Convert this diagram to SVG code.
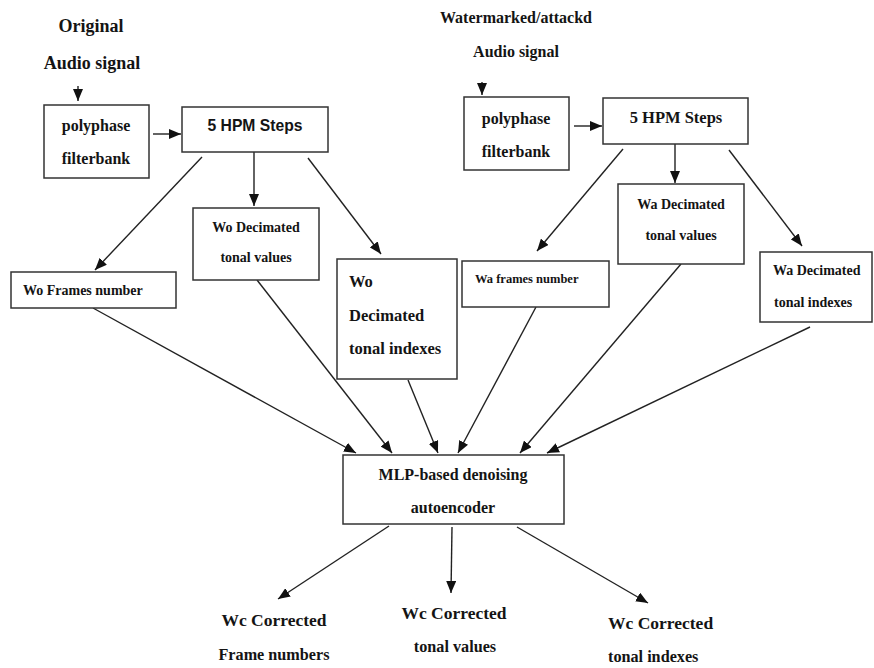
<svg xmlns="http://www.w3.org/2000/svg" width="874" height="668" viewBox="0 0 874 668">
<defs>
<marker id="ah" markerUnits="userSpaceOnUse" markerWidth="12" markerHeight="10" refX="12" refY="5" orient="auto">
<path d="M0,0 L12,5 L0,10 z" fill="#111"/>
</marker>
<style>
.box{fill:#fff;stroke:#333;stroke-width:1.5}
.t{font-family:"Liberation Serif","Times New Roman",serif;font-weight:bold;fill:#141414}
.c{text-anchor:middle}
.s{font-family:"Liberation Sans",Arial,sans-serif;font-weight:bold;fill:#141414}
.ln{stroke:#222;stroke-width:1.4;fill:none;marker-end:url(#ah)}
</style>
</defs>
<rect width="874" height="668" fill="#fff"/>

<g id="connectors">
<line class="ln" x1="78" y1="86" x2="78" y2="101"/>
<line class="ln" x1="153" y1="134" x2="181" y2="134"/>
<line class="ln" x1="202" y1="157" x2="95" y2="270"/>
<line class="ln" x1="254" y1="152" x2="254" y2="206"/>
<line class="ln" x1="308" y1="158" x2="381" y2="254"/>
<line class="ln" x1="482" y1="82" x2="482" y2="95"/>
<line class="ln" x1="574" y1="126" x2="602" y2="126"/>
<line class="ln" x1="623" y1="149" x2="537" y2="251"/>
<line class="ln" x1="675" y1="144" x2="675" y2="183"/>
<line class="ln" x1="729" y1="150" x2="802" y2="246"/>
<line class="ln" x1="93" y1="308" x2="356" y2="453"/>
<line class="ln" x1="257" y1="280" x2="392" y2="453"/>
<line class="ln" x1="408" y1="380" x2="438" y2="453"/>
<line class="ln" x1="536" y1="307" x2="458" y2="453"/>
<line class="ln" x1="681" y1="264" x2="520" y2="453"/>
<line class="ln" x1="810" y1="327" x2="547" y2="453"/>
<line class="ln" x1="389" y1="526" x2="278" y2="599"/>
<line class="ln" x1="452" y1="527" x2="451" y2="593"/>
<line class="ln" x1="517" y1="527" x2="648" y2="603"/>
</g>

<g id="original-label">
<text class="t c" x="91" y="32" font-size="18">Original</text>
<text class="t c" x="92" y="69" font-size="18">Audio signal</text>
</g>

<g id="wo-polyphase">
<rect class="box" x="44" y="105" width="105" height="73"/>
<text class="t c" x="96" y="131" font-size="16">polyphase</text>
<text class="t c" x="96" y="164" font-size="16">filterbank</text>
</g>

<g id="wo-hpm">
<rect class="box" x="182" y="107" width="146" height="45"/>
<text class="s c" x="255" y="131" font-size="17" textLength="95" lengthAdjust="spacingAndGlyphs">5 HPM Steps</text>
</g>

<g id="wo-frames">
<rect class="box" x="11" y="272" width="165" height="36"/>
<text class="t" x="23" y="295" font-size="14">Wo Frames number</text>
</g>

<g id="wo-values">
<rect class="box" x="193" y="208" width="126" height="72"/>
<text class="t c" x="256" y="232" font-size="14">Wo Decimated</text>
<text class="t c" x="256" y="262" font-size="14">tonal values</text>
</g>

<g id="wo-indexes">
<rect class="box" x="337" y="259" width="120" height="120"/>
<text class="t" x="349" y="287" font-size="16.5">Wo</text>
<text class="t" x="349" y="321" font-size="16.5">Decimated</text>
<text class="t" x="349" y="354" font-size="16.5">tonal indexes</text>
</g>

<g id="wa-label">
<text class="t c" x="516" y="23" font-size="16">Watermarked/attackd</text>
<text class="t c" x="516" y="57" font-size="16">Audio signal</text>
</g>

<g id="wa-polyphase">
<rect class="box" x="464" y="97" width="105" height="73"/>
<text class="t c" x="516" y="124" font-size="16">polyphase</text>
<text class="t c" x="516" y="157" font-size="16">filterbank</text>
</g>

<g id="wa-hpm">
<rect class="box" x="603" y="98" width="145" height="46"/>
<text class="t c" x="676" y="123" font-size="16.5">5 HPM Steps</text>
</g>

<g id="wa-frames">
<rect class="box" x="462" y="261" width="147" height="46"/>
<text class="t" x="475" y="283" font-size="12.5">Wa frames number</text>
</g>

<g id="wa-values">
<rect class="box" x="618" y="184" width="126" height="80"/>
<text class="t c" x="681" y="209" font-size="14">Wa Decimated</text>
<text class="t c" x="681" y="240" font-size="14">tonal values</text>
</g>

<g id="wa-indexes">
<rect class="box" x="760" y="252" width="112" height="70"/>
<text class="t" x="773" y="275" font-size="14">Wa Decimated</text>
<text class="t" x="774" y="307" font-size="14">tonal indexes</text>
</g>

<g id="mlp">
<rect class="box" x="343" y="455" width="221" height="69"/>
<text class="t c" x="453" y="480" font-size="16">MLP-based denoising</text>
<text class="t c" x="453" y="513" font-size="16">autoencoder</text>
</g>

<g id="wc-frames">
<text class="t c" x="274" y="626" font-size="17.5">Wc Corrected</text>
<text class="t c" x="274" y="660" font-size="16.2">Frame numbers</text>
</g>

<g id="wc-values">
<text class="t c" x="454" y="619" font-size="17.5">Wc Corrected</text>
<text class="t c" x="455" y="652" font-size="16.2">tonal values</text>
</g>

<g id="wc-indexes">
<text class="t" x="608" y="629" font-size="17.5">Wc Corrected</text>
<text class="t" x="608" y="662" font-size="16.2">tonal indexes</text>
</g>
</svg>
